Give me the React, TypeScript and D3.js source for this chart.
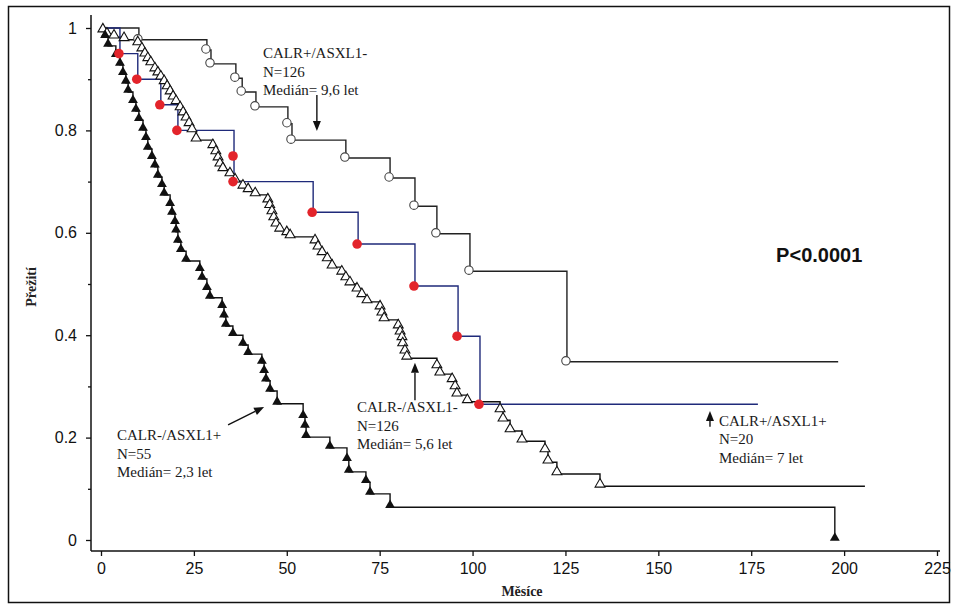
import React, { Component } from 'react';
import * as d3 from 'd3';

// axis ticks
const x_ticks = [0, 25, 50, 75, 100, 125, 150, 175, 200, 225];
const y_ticks = [0, 0.2, 0.4, 0.6, 0.8, 1];
const y_minor_ticks = [0.1, 0.3, 0.5, 0.7, 0.9];

// CALR+/ASXL1- (open circles), months and survival after each step
const calrpos_asxlneg_months = [10.2, 28.5, 29.6, 36.3, 38.0, 41.7, 50.3, 51.4, 65.9, 77.8, 84.5, 90.4, 99.3, 125.4];
const calrpos_asxlneg_surv = [0.977, 0.957, 0.93, 0.902, 0.875, 0.846, 0.813, 0.781, 0.746, 0.707, 0.652, 0.598, 0.525, 0.348];
const calrpos_asxlneg_end = 198.4;

// CALR+/ASXL1+ (blue line, red dots)
const calrpos_asxlpos_months = [5.1, 9.9, 16.1, 20.7, 35.8, 35.8, 57.1, 69.2, 84.5, 96.1, 102.0];
const calrpos_asxlpos_surv = [0.95, 0.90, 0.85, 0.80, 0.75, 0.70, 0.64, 0.578, 0.496, 0.398, 0.265];
const calrpos_asxlpos_end = 176.8;

// CALR-/ASXL1- (open triangles)
const calrneg_asxlneg_months = [
    0.5, 1.6, 3.5, 6.2, 9.9, 11.0, 11.8, 12.6, 13.4, 14.5, 15.3, 16.1, 17.0, 17.8, 18.6, 19.4,
    20.2, 21.3, 22.1, 22.9, 23.7, 24.5, 25.6, 30.1, 30.9, 31.5, 32.0, 32.8, 34.7, 36.1, 38.2,
    39.6, 41.5, 44.9, 45.4, 46.0, 46.5, 47.1, 48.1, 50.0, 50.9, 57.6, 58.4, 59.5, 60.9, 62.2,
    64.8, 65.9, 67.0, 68.9, 70.2, 71.6, 75.1, 75.6, 76.2, 80.0, 80.5, 81.0, 81.2, 81.8, 82.3,
    90.4, 91.2, 94.5, 95.3, 95.8, 98.6, 107.4, 108.2, 110.1, 113.3, 119.5, 120.3, 122.7, 134.3
];
const calrneg_asxlneg_surv = [
    0.994, 0.986, 0.982, 0.977, 0.969, 0.957, 0.947, 0.938, 0.930, 0.918, 0.910, 0.902, 0.893, 0.883, 0.873, 0.863,
    0.854, 0.842, 0.832, 0.822, 0.811, 0.799, 0.781, 0.768, 0.756, 0.744, 0.732, 0.723, 0.713, 0.701, 0.689,
    0.682, 0.674, 0.662, 0.651, 0.639, 0.627, 0.615, 0.605, 0.598, 0.592, 0.582, 0.570, 0.559, 0.547, 0.533,
    0.521, 0.510, 0.500, 0.488, 0.477, 0.465, 0.453, 0.441, 0.430, 0.416, 0.404, 0.393, 0.381, 0.367, 0.355,
    0.338, 0.324, 0.311, 0.297, 0.283, 0.270, 0.252, 0.234, 0.213, 0.193, 0.174, 0.152, 0.129, 0.105
];
const calrneg_asxlneg_end = 205.6;

// CALR-/ASXL1+ (filled triangles)
const calrneg_asxlpos_months = [
    1.1, 1.9, 4.0, 5.1, 5.9, 6.7, 7.3, 8.6, 9.4, 10.2, 11.3, 12.1, 12.6, 13.7, 14.5, 15.3, 16.4,
    17.0, 18.6, 19.1, 19.9, 20.2, 20.7, 21.5, 22.9, 26.6, 27.2, 28.5, 29.3, 32.6, 33.1, 33.6, 35.5,
    38.2, 39.6, 43.3, 43.9, 44.4, 45.5, 47.4, 54.4, 54.9, 55.2, 61.6, 66.2, 66.7, 71.3, 72.4, 77.8, 197.5
];
const calrneg_asxlpos_surv = [
    0.982, 0.965, 0.945, 0.928, 0.910, 0.893, 0.875, 0.855, 0.838, 0.820, 0.801, 0.783, 0.764, 0.746, 0.729, 0.709, 0.691,
    0.674, 0.654, 0.637, 0.619, 0.602, 0.582, 0.564, 0.545, 0.527, 0.510, 0.490, 0.473, 0.455, 0.436, 0.418, 0.400,
    0.381, 0.363, 0.346, 0.328, 0.311, 0.291, 0.266, 0.240, 0.221, 0.201, 0.180, 0.156, 0.133, 0.113, 0.090, 0.064, 0
];
const calrneg_asxlpos_end = 197.5;

// annotation texts
const label_calrpos_asxlneg = ["CALR+/ASXL1-", "N=126", "Medián= 9,6 let"];
const label_calrneg_asxlpos = ["CALR-/ASXL1+", "N=55", "Medián= 2,3 let"];
const label_calrneg_asxlneg = ["CALR-/ASXL1-", "N=126", "Medián= 5,6 let"];
const label_calrpos_asxlpos = ["CALR+/ASXL1+", "N=20", "Medián= 7 let"];


export default class App extends Component {

    svgRef = React.createRef<SVGSVGElement>();

    componentDidMount() {
        this.renderChart();
    }

    renderChart() {

        const width = 957;
        const height = 606;
        const serif = "'Liberation Serif', 'Times New Roman', serif";
        const sans = "'Liberation Sans', Arial, sans-serif";

        let svg = d3.select(this.svgRef.current);
        svg.selectAll("*").remove();

        svg.append("rect")
            .attr("width", width)
            .attr("height", height)
            .attr("fill", "#fff");

        // frame round the figure
        svg.append("rect")
            .attr("x", 8.5)
            .attr("y", 6.5)
            .attr("width", 941)
            .attr("height", 596)
            .attr("fill", "none")
            .attr("stroke", "#111")
            .attr("stroke-width", 1.5);

        // scales
        const x_scale = d3.scaleLinear().domain([0, 225]).range([101, 937]);
        const y_scale = d3.scaleLinear().domain([0, 1]).range([540, 28]);

        const axis_x = 91;
        const axis_y = 551;

        // axis lines
        svg.append("line")
            .attr("x1", axis_x).attr("x2", axis_x)
            .attr("y1", 15).attr("y2", axis_y)
            .attr("stroke", "#111").attr("stroke-width", 1.5);
        svg.append("line")
            .attr("x1", axis_x).attr("x2", 940)
            .attr("y1", axis_y).attr("y2", axis_y)
            .attr("stroke", "#111").attr("stroke-width", 1.5);

        // y axis
        const y_axis = d3.axisLeft(y_scale)
            .tickValues(y_ticks)
            .tickSize(5)
            .tickPadding(9)
            .tickFormat(d => (d === 0 || d === 1) ? String(d) : d3.format(".1f")(d));
        let y_g = svg.append("g")
            .attr("transform", "translate(" + axis_x + ", 0)")
            .call(y_axis);
        y_g.select(".domain").remove();

        let y_minor = svg.append("g")
            .attr("transform", "translate(" + axis_x + ", 0)")
            .call(d3.axisLeft(y_scale).tickValues(y_minor_ticks).tickSize(3).tickFormat(() => ""));
        y_minor.select(".domain").remove();

        // x axis
        const x_axis = d3.axisBottom(x_scale)
            .tickValues(x_ticks)
            .tickSize(5)
            .tickPadding(7);
        let x_g = svg.append("g")
            .attr("transform", "translate(0, " + axis_y + ")")
            .call(x_axis);
        x_g.select(".domain").remove();

        svg.selectAll(".tick line").attr("stroke", "#111").attr("stroke-width", 1.3);
        svg.selectAll(".tick text")
            .attr("fill", "#111")
            .style("font-family", "'Liberation Sans Narrow', " + sans)
            .style("font-size", "16px");

        // axis titles
        svg.append("text")
            .attr("text-anchor", "middle")
            .attr("transform", "translate(36, 287) rotate(-90)")
            .style("font-family", serif)
            .style("font-size", "14px")
            .style("font-weight", "bold")
            .attr("fill", "#222")
            .text("Přežití");

        svg.append("text")
            .attr("text-anchor", "middle")
            .attr("x", 522)
            .attr("y", 596)
            .style("font-family", serif)
            .style("font-size", "14px")
            .style("font-weight", "bold")
            .attr("fill", "#222")
            .text("Měsíce");

        // step curves
        const stepLine = d3.line<number[]>()
            .x(d => x_scale(d[0]))
            .y(d => y_scale(d[1]))
            .curve(d3.curveStepAfter);

        const stepPoints = (months: number[], surv: number[], end: number) => {
            let pts = [[0, 1]];
            months.forEach((m, i) => pts.push([m, surv[i]]));
            pts.push([end, surv[surv.length - 1]]);
            return pts;
        };

        const curves = [
            { months: calrneg_asxlpos_months, surv: calrneg_asxlpos_surv, end: calrneg_asxlpos_end, color: "#111" },
            { months: calrneg_asxlneg_months, surv: calrneg_asxlneg_surv, end: calrneg_asxlneg_end, color: "#111" },
            { months: calrpos_asxlneg_months, surv: calrpos_asxlneg_surv, end: calrpos_asxlneg_end, color: "#222" },
            { months: calrpos_asxlpos_months, surv: calrpos_asxlpos_surv, end: calrpos_asxlpos_end, color: "#1f2a7a" }
        ];

        curves.forEach(function(c) {
            svg.append("path")
                .attr("d", stepLine(stepPoints(c.months, c.surv, c.end)))
                .attr("fill", "none")
                .attr("stroke", c.color)
                .attr("stroke-width", 1.4);
        });

        // markers
        const tri = d3.symbol().type(d3.symbolTriangle).size(42)();

        svg.selectAll(".open-circle")
            .data(calrpos_asxlneg_months).enter()
            .append("circle")
            .attr("class", "open-circle")
            .attr("cx", d => x_scale(d) - 1)
            .attr("cy", (d, i) => y_scale(calrpos_asxlneg_surv[i]) - 1)
            .attr("r", 4.2)
            .attr("fill", "#fff")
            .attr("stroke", "#444")
            .attr("stroke-width", 1.1);

        svg.selectAll(".open-tri")
            .data(calrneg_asxlneg_months).enter()
            .append("path")
            .attr("class", "open-tri")
            .attr("d", tri)
            .attr("transform", (d, i) => "translate(" + x_scale(d) + ", " + (y_scale(calrneg_asxlneg_surv[i]) - 2) + ")")
            .attr("fill", "#fff")
            .attr("stroke", "#111")
            .attr("stroke-width", 1.1);

        svg.selectAll(".filled-tri")
            .data(calrneg_asxlpos_months).enter()
            .append("path")
            .attr("class", "filled-tri")
            .attr("d", tri)
            .attr("transform", (d, i) => "translate(" + x_scale(d) + ", " + (y_scale(calrneg_asxlpos_surv[i]) - 2) + ")")
            .attr("fill", "#111");

        svg.selectAll(".red-dot")
            .data(calrpos_asxlpos_months).enter()
            .append("circle")
            .attr("class", "red-dot")
            .attr("cx", d => x_scale(d) - 1)
            .attr("cy", (d, i) => y_scale(calrpos_asxlpos_surv[i]))
            .attr("r", 4.8)
            .attr("fill", "#e3242b");

        // labels with median info
        const drawLabel = (lines: string[], m: number, s: number) => {
            let t = svg.append("text")
                .attr("x", x_scale(m))
                .attr("y", y_scale(s))
                .style("font-family", serif)
                .style("font-size", "15px")
                .attr("fill", "#1a1a1a");
            lines.forEach((l, i) => {
                t.append("tspan")
                    .attr("x", x_scale(m))
                    .attr("dy", i === 0 ? 0 : 18.5)
                    .text(l);
            });
        };
        drawLabel(label_calrpos_asxlneg, 43.6, 0.941);
        drawLabel(label_calrneg_asxlpos, 4.3, 0.195);
        drawLabel(label_calrneg_asxlneg, 68.9, 0.25);
        drawLabel(label_calrpos_asxlpos, 166.3, 0.223);

        // arrows
        const drawArrow = (m1: number, s1: number, m2: number, s2: number) => {
            const x1 = x_scale(m1), y1 = y_scale(s1), x2 = x_scale(m2), y2 = y_scale(s2);
            const ang = Math.atan2(y2 - y1, x2 - x1);
            const head = 10, half = 4;
            const bx = x2 - head * Math.cos(ang), by = y2 - head * Math.sin(ang);
            svg.append("line")
                .attr("x1", x1).attr("y1", y1)
                .attr("x2", bx).attr("y2", by)
                .attr("stroke", "#111").attr("stroke-width", 1.4);
            svg.append("path")
                .attr("d", "M" + x2 + "," + y2 +
                    "L" + (bx - half * Math.sin(ang)) + "," + (by + half * Math.cos(ang)) +
                    "L" + (bx + half * Math.sin(ang)) + "," + (by - half * Math.cos(ang)) + "Z")
                .attr("fill", "#111");
        };
        drawArrow(58.1, 0.869, 58.1, 0.799);
        drawArrow(34.2, 0.225, 43.9, 0.260);
        drawArrow(84.5, 0.273, 84.5, 0.346);
        drawArrow(163.9, 0.221, 163.9, 0.252);

        // p value
        svg.append("text")
            .attr("x", x_scale(181.7))
            .attr("y", y_scale(0.543))
            .style("font-family", sans)
            .style("font-size", "20px")
            .style("font-weight", "bold")
            .attr("fill", "#111")
            .text("P<0.0001");
    }

    render() {
        return (
            <svg ref={this.svgRef} width={957} height={606}
                style={{ position: "absolute", left: 0, top: 0, display: "block" }} />
        );
    }

}
